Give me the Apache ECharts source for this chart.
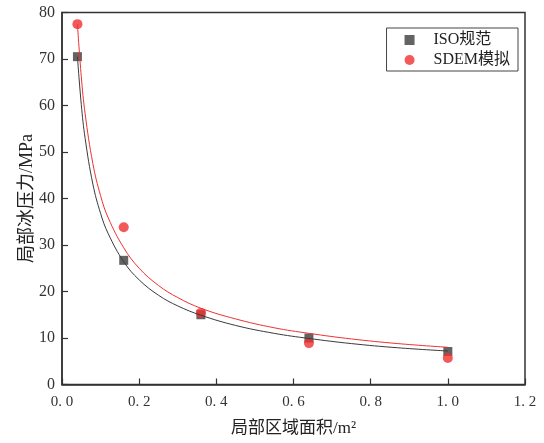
<!DOCTYPE html>
<html>
<head>
<meta charset="utf-8">
<script src="https://cdn.jsdelivr.net/npm/echarts@6/dist/echarts.min.js"></script>
<style>
  html, body { margin: 0; padding: 0; background: #fff; }
  #chart { width: 544px; height: 443px; }
</style>
</head>
<body>
<div id="chart"></div>
<script>
// Local ice pressure vs. local contact area
const areas = [0.04, 0.16, 0.36, 0.64, 1.0];
const isoValues = [70.5, 26.7, 15.0, 10.0, 7.1];
const sdemValues = [77.5, 33.8, 15.4, 8.9, 5.7];

// Fitted curves (sampled along the area axis)
const fitAreas = [0.04, 0.05, 0.06, 0.08, 0.10, 0.12, 0.16, 0.20, 0.25, 0.30, 0.36, 0.45, 0.55, 0.64, 0.75, 0.87, 1.0];
const isoFit = [70.5, 60.2, 52.9, 43.1, 36.8, 32.4, 26.4, 22.5, 19.2, 16.9, 14.9, 12.7, 11.0, 9.9, 8.8, 7.9, 7.2];
const sdemFit = [77.5, 66.2, 58.2, 47.5, 40.6, 35.8, 29.4, 25.0, 21.3, 18.7, 16.4, 14.1, 12.2, 11.0, 9.8, 8.8, 8.0];

const seriesNames = ['ISO规范', 'SDEM模拟'];
const xTicks = { min: 0, max: 1.2, step: 0.2 };
const yTicks = { min: 0, max: 80, step: 10 };

const pairs = (xs, ys) => xs.map((x, i) => [x, ys[i]]);
const FONT = '"Liberation Serif", "Noto Sans CJK SC", serif';

const chart = echarts.init(document.getElementById('chart'));
chart.setOption({
  animation: false,
  backgroundColor: '#fff',
  grid: {
    left: 62, right: 19, top: 12.5, bottom: 58.5,
    show: true, borderColor: '#333', borderWidth: 1.5, backgroundColor: 'transparent'
  },
  legend: {
    data: [
      { name: seriesNames[0], icon: 'rect' },
      { name: seriesNames[1], icon: 'circle' }
    ],
    orient: 'vertical',
    right: 26, top: 28,
    itemWidth: 10, itemHeight: 10, itemGap: 4,
    padding: [4, 8, 3, 18],
    borderColor: '#444', borderWidth: 1,
    textStyle: { fontFamily: FONT, fontSize: 16, color: '#222', padding: [0, 0, 0, 14] }
  },
  xAxis: {
    type: 'value',
    min: xTicks.min, max: xTicks.max, interval: xTicks.step,
    name: '局部区域面积/m²',
    nameLocation: 'middle', nameGap: 36, nameMoveOverlap: false,
    nameTextStyle: { fontFamily: FONT, fontSize: 17, color: '#222' },
    axisLine: { show: true, lineStyle: { color: '#333', width: 1.5 } },
    axisTick: { show: true, inside: true, length: 6, lineStyle: { color: '#333', width: 1.2 } },
    axisLabel: {
      fontFamily: FONT, fontSize: 15, color: '#333', margin: 10,
      formatter: v => v.toFixed(1).replace('.', '. ')
    },
    splitLine: { show: false }
  },
  yAxis: {
    type: 'value',
    min: yTicks.min, max: yTicks.max, interval: yTicks.step,
    name: '局部冰压力/MPa',
    nameLocation: 'middle', nameGap: 26, nameMoveOverlap: false,
    nameTextStyle: { fontFamily: FONT, fontSize: 18, color: '#222' },
    axisLine: { show: true, lineStyle: { color: '#333', width: 1.5 } },
    axisTick: { show: true, inside: true, length: 6, lineStyle: { color: '#333', width: 1.2 } },
    axisLabel: { fontFamily: FONT, fontSize: 16, color: '#333', margin: 7 },
    splitLine: { show: false }
  },
  series: [
    {
      name: seriesNames[0], type: 'scatter', symbol: 'rect', symbolSize: 9,
      itemStyle: { color: '#3c3c3c' },
      data: pairs(areas, isoValues), z: 2
    },
    {
      name: seriesNames[1], type: 'scatter', symbol: 'circle', symbolSize: 10,
      itemStyle: { color: '#f03030' },
      data: pairs(areas, sdemValues), z: 2
    },
    {
      name: 'isoFit', type: 'line', smooth: 0.4, showSymbol: false, symbol: 'none',
      lineStyle: { color: '#3a3a3a', width: 1 },
      data: pairs(fitAreas, isoFit), z: 3, silent: true
    },
    {
      name: 'sdemFit', type: 'line', smooth: 0.4, showSymbol: false, symbol: 'none',
      lineStyle: { color: '#f03030', width: 1 },
      data: pairs(fitAreas, sdemFit), z: 3, silent: true
    }
  ]
});
</script>
</body>
</html>
